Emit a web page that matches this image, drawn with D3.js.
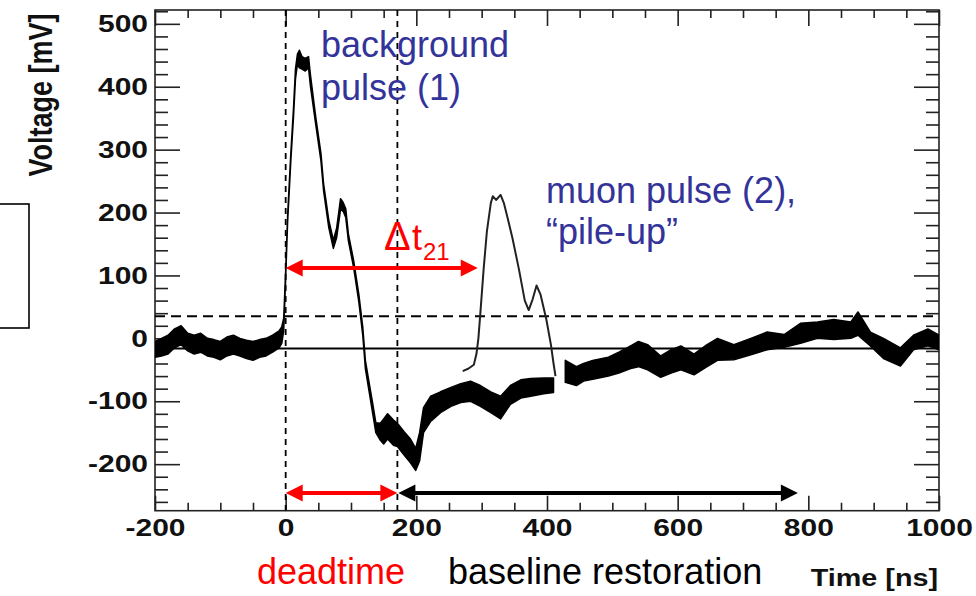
<!DOCTYPE html>
<html><head><meta charset="utf-8">
<script src="https://cdn.jsdelivr.net/npm/d3@7"></script>
<style>body{margin:0;background:#fff} svg{display:block}</style>
</head><body><svg id="c" width="976" height="596"></svg>
<script>
// ---- data ----
const xTicks = [-200, 0, 200, 400, 600, 800, 1000];
const yTicks = [-200, -100, 0, 100, 200, 300, 400, 500];
const xMinorTicks = [-150,-100,-50,50,100,150,250,300,350,450,500,550,650,700,750,850,900,950];
const yMinorTicks = [-260,-240,-220,-180,-160,-140,-120,-80,-60,-40,-20,20,40,60,80,120,140,160,180,220,240,260,280,320,340,360,380,420,440,460,480,520];

// main waveform: time [ns], lower and upper edge of the noisy trace [mV]
const traceT  = [-200,-190,-180,-170,-160,-150,-140,-130,-120,-110,-100,-90,-80,-70,-60,-50,-40,-30,-20,-10,-6,-3,0,3,8,12,15,18,21,25,30,35,38,46,54,58,66,73,78,84,88,92,96,104,112,118,122,127,133,138,145,150,156,165,171,181,191,199,205,211,222,237,253,268,283,298,314,329,344,360,375,395,410,416,428,445,456,470,494,510,528,540,554,574,590,605,625,645,661,686,712,737,763,788,814,839,865,876,895,915,941,961,983,1000];
const traceLo = [-30,-28,-25,-15,-10,-20,-25,-22,-28,-30,-34,-28,-25,-28,-32,-35,-30,-28,-22,-15,-8,12,95,185,284,352,412,436,430,428,425,430,400,340,282,235,176,143,160,205,202,192,155,113,58,5,-48,-80,-118,-150,-162,-168,-160,-170,-172,-185,-198,-210,-195,-150,-132,-118,-108,-102,-100,-108,-118,-128,-105,-95,-92,-88,-86,null,-70,-75,-68,-65,-60,-55,-48,-45,-50,-62,-55,-50,-58,-45,-35,-34,-26,-18,-14,-8,0,-2,0,5,-12,-32,-44,-18,-12,-18];
const traceHi = [-5,0,5,15,20,8,5,8,0,-2,-5,2,5,0,-3,-5,-2,0,5,12,18,32,108,196,296,366,428,452,458,448,445,448,418,352,294,246,188,156,175,222,216,206,166,124,70,18,-35,-66,-102,-134,-135,-128,-120,-130,-135,-148,-160,-175,-150,-110,-92,-85,-78,-72,-68,-75,-85,-92,-75,-66,-64,-63,-63,null,-35,-45,-40,-35,-30,-22,-12,-5,-10,-28,-18,-12,-25,-10,0,-10,0,10,6,24,26,30,26,42,10,0,-15,5,15,5];

// overlaid muon pulse (2)
const muonT = [271,280,288,292,295,298,303,308,314,317,322,329,334,340,347,357,366,372,378,384,390,399,406,410,413];
const muonV = [-52,-48,-42,-25,0,40,110,170,215,226,220,228,215,190,160,110,60,45,62,84,70,30,-10,-40,-60];

const baselineLevel = -16;   // solid line
const thresholdLevel = 35;   // dashed line
const markerTimes = [0, 171];
const deltaLevel = 112, deltaEnd = 294;
const arrowLevel = -246, restoreEnd = 784;

// ---- drawing ----
const svg = d3.select("#c");
const L = 155, R = 939, T = 10, B = 510.7;
const x = d3.scaleLinear().domain([-200, 1000]).range([L, R]);
const y = d3.scaleLinear().domain([-274, 522]).range([B, T]);
const FONT = "'Liberation Sans', Arial, Helvetica, sans-serif";
const AX = "#222";
const fmt = d => String(d);

svg.append("defs").append("clipPath").attr("id","clip")
  .append("rect").attr("x",L).attr("y",T).attr("width",R-L).attr("height",B-T);

function styleAxis(g){
  g.select(".domain").remove();
  g.selectAll(".tick line").attr("stroke",AX).attr("stroke-width",1.6);
}
// bottom
svg.append("g").attr("transform",`translate(0,${B})`)
  .call(d3.axisBottom(x).tickValues(xMinorTicks).tickSize(-8).tickFormat("")).call(styleAxis);
const gb = svg.append("g").attr("transform",`translate(0,${B})`)
  .call(d3.axisBottom(x).tickValues(xTicks).tickSize(-15).tickPadding(8).tickFormat(fmt)).call(styleAxis);
gb.selectAll("text").attr("font-family",FONT).attr("font-size",24).attr("font-weight","bold")
  .attr("fill","#111").attr("transform","scale(1.25,1)");
// top
svg.append("g").attr("transform",`translate(0,${T})`)
  .call(d3.axisTop(x).tickValues(xMinorTicks).tickSize(-8).tickFormat("")).call(styleAxis);
svg.append("g").attr("transform",`translate(0,${T})`)
  .call(d3.axisTop(x).tickValues(xTicks).tickSize(-16).tickFormat("")).call(styleAxis);
// left
svg.append("g").attr("transform",`translate(${L},0)`)
  .call(d3.axisLeft(y).tickValues(yMinorTicks).tickSize(-13).tickFormat("")).call(styleAxis);
const gl = svg.append("g").attr("transform",`translate(${L},0)`)
  .call(d3.axisLeft(y).tickValues(yTicks).tickSize(-25).tickPadding(5.6).tickFormat(fmt)).call(styleAxis);
gl.selectAll("text").attr("font-family",FONT).attr("font-size",24).attr("font-weight","bold")
  .attr("fill","#111").attr("transform","scale(1.25,1)");
// right
svg.append("g").attr("transform",`translate(${R},0)`)
  .call(d3.axisRight(y).tickValues(yMinorTicks).tickSize(-13).tickFormat("")).call(styleAxis);
svg.append("g").attr("transform",`translate(${R},0)`)
  .call(d3.axisRight(y).tickValues(yTicks).tickSize(-25).tickFormat("")).call(styleAxis);

// frame
svg.append("rect").attr("x",L).attr("y",T).attr("width",R-L).attr("height",B-T)
  .attr("fill","none").attr("stroke",AX).attr("stroke-width",1.6);

const plot = svg.append("g").attr("clip-path","url(#clip)");
// reference lines
plot.append("line").attr("x1",L).attr("x2",R).attr("y1",y(baselineLevel)).attr("y2",y(baselineLevel))
  .attr("stroke","#000").attr("stroke-width",2);
plot.append("line").attr("x1",L).attr("x2",R).attr("y1",y(thresholdLevel)).attr("y2",y(thresholdLevel))
  .attr("stroke","#000").attr("stroke-width",2).attr("stroke-dasharray","10,6");
plot.selectAll("line.vm").data(markerTimes).enter().append("line").attr("class","vm")
  .attr("x1",d=>x(d)).attr("x2",d=>x(d)).attr("y1",T).attr("y2",B)
  .attr("stroke","#000").attr("stroke-width",1.8).attr("stroke-dasharray","6,5");

// main trace
const idx = d3.range(traceT.length);
const area = d3.area().defined(i=>traceLo[i]!=null)
  .x(i=>x(traceT[i])).y0(i=>y(traceLo[i])).y1(i=>y(traceHi[i]));
plot.append("path").attr("d",area(idx)).attr("fill","#000").attr("stroke","#000")
  .attr("stroke-width",1.5).attr("stroke-linejoin","round");
// muon pulse
const mline = d3.line().x(i=>x(muonT[i])).y(i=>y(muonV[i]));
plot.append("path").attr("d",mline(d3.range(muonT.length))).attr("fill","none")
  .attr("stroke","#222").attr("stroke-width",2).attr("stroke-linejoin","round");

// arrows
function arrow(x1,x2,yy,color,w,head1,head2){
  const hl=17, hw=8.5;
  const a = head1 ? x1+hl-1 : x1, b = head2 ? x2-hl+1 : x2;
  svg.append("line").attr("x1",a).attr("x2",b).attr("y1",yy).attr("y2",yy)
    .attr("stroke",color).attr("stroke-width",w);
  if(head1) svg.append("path").attr("d",`M${x1},${yy}L${x1+hl},${yy-hw}L${x1+hl},${yy+hw}Z`).attr("fill",color);
  if(head2) svg.append("path").attr("d",`M${x2},${yy}L${x2-hl},${yy-hw}L${x2-hl},${yy+hw}Z`).attr("fill",color);
}
arrow(x(0), x(deltaEnd), y(deltaLevel), "#ff0000", 4, true, true);
arrow(x(0), x(markerTimes[1]), y(arrowLevel), "#ff0000", 4, true, true);
arrow(x(markerTimes[1])+1, x(restoreEnd), y(arrowLevel), "#000", 4, true, true);

// left box fragment
svg.append("rect").attr("x",-3).attr("y",204).attr("width",32).attr("height",124)
  .attr("fill","none").attr("stroke","#000").attr("stroke-width",1.6);

// texts
function txt(t,xx,yy,size,color){
  return svg.append("text").attr("x",xx).attr("y",yy).attr("font-family",FONT)
    .attr("font-size",size).attr("fill",color).text(t);
}
txt("background",321,57,36,"#333399");
txt("pulse (1)",321,100,36,"#333399");
txt("muon pulse (2),",546,203,36,"#333399");
txt("\u201cpile-up\u201d",546,244,36,"#333399");
txt("\u0394",384,250,40,"#ff0000");
txt("t",412,250,36,"#ff0000");
txt("21",423,260,24,"#ff0000");
txt("deadtime",257,584,36,"#ff0000");
txt("baseline restoration",448,584,36,"#000");
svg.append("text").attr("transform","translate(938,586) scale(1.25,1)").attr("text-anchor","end")
  .attr("font-family",FONT).attr("font-size",23).attr("font-weight","bold").attr("fill","#111").text("Time [ns]");
svg.append("text").attr("transform","translate(52,95) scale(1.25,1) rotate(-90)").attr("text-anchor","middle")
  .attr("font-family",FONT).attr("font-size",27).attr("font-weight","bold").attr("fill","#111").text("Voltage [mV]");
</script></body></html>
